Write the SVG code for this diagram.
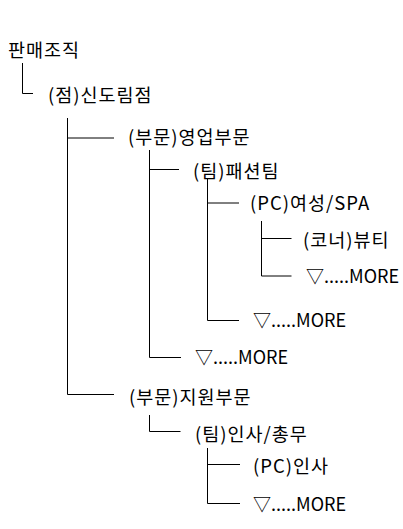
<svg xmlns="http://www.w3.org/2000/svg" width="403" height="529" viewBox="0 0 403 529">
<style>
text{font-family:"Noto Sans CJK KR","Noto Sans",sans-serif;font-size:18.5px;fill:#000;letter-spacing:1px}
text.m{font-size:18px;letter-spacing:0}
.c line{stroke:#000;stroke-width:1}
</style>
<rect width="403" height="529" fill="#fff"/>
<g class="c" id="connectors">
<line x1="22.5" y1="63" x2="22.5" y2="93.5"/><line x1="22.5" y1="93.5" x2="33" y2="93.5"/>
<line x1="67.5" y1="118" x2="67.5" y2="394.5"/><line x1="67.5" y1="138" x2="114" y2="138"/><line x1="67.5" y1="394.5" x2="114" y2="394.5"/>
<line x1="149.5" y1="150" x2="149.5" y2="357.5"/><line x1="149.5" y1="169.5" x2="179" y2="169.5"/><line x1="149.5" y1="357.5" x2="181" y2="357.5"/>
<line x1="207.5" y1="178" x2="207.5" y2="320.5"/><line x1="207.5" y1="203" x2="239" y2="203"/><line x1="207.5" y1="320.5" x2="239" y2="320.5"/>
<line x1="261.5" y1="221" x2="261.5" y2="276"/><line x1="261.5" y1="238.5" x2="291.5" y2="238.5"/><line x1="261.5" y1="276" x2="291.5" y2="276"/>
<line x1="149.5" y1="415" x2="149.5" y2="431.5"/><line x1="149.5" y1="431.5" x2="180.5" y2="431.5"/>
<line x1="207.5" y1="448" x2="207.5" y2="503.5"/><line x1="207.5" y1="464.5" x2="240" y2="464.5"/><line x1="207.5" y1="503.5" x2="240" y2="503.5"/>
</g>
<g id="n-root"><text x="8" y="57">판매조직</text></g>
<g id="n-sindorim"><text x="48" y="102">(점)신도림점</text></g>
<g id="n-sales"><text x="128" y="144">(부문)영업부문</text></g>
<g id="n-fashion"><text x="193" y="178">(팀)패션팀</text></g>
<g id="n-women"><text x="250" y="210">(PC)여성/SPA</text></g>
<g id="n-beauty"><text x="303" y="247">(코너)뷰티</text></g>
<g id="n-more1"><text class="m" x="306" y="283">▽.....MORE</text></g>
<g id="n-more2"><text class="m" x="253" y="327">▽.....MORE</text></g>
<g id="n-more3"><text class="m" x="195" y="364">▽.....MORE</text></g>
<g id="n-support"><text x="129" y="404">(부문)지원부문</text></g>
<g id="n-hr"><text x="195" y="441">(팀)인사/총무</text></g>
<g id="n-hrpc"><text x="253" y="473">(PC)인사</text></g>
<g id="n-more4"><text class="m" x="253" y="511">▽.....MORE</text></g>
</svg>
